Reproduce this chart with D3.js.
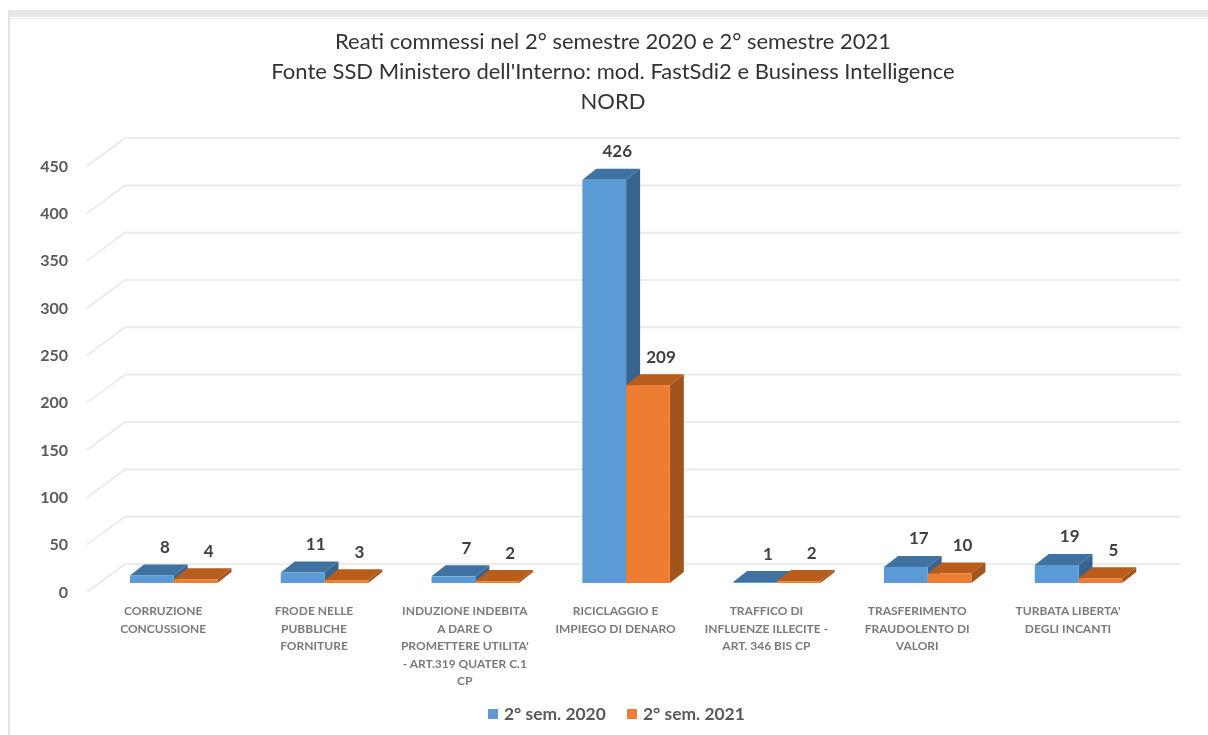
<!DOCTYPE html>
<html>
<head>
<meta charset="utf-8">
<script src="https://cdn.jsdelivr.net/npm/d3@7"></script>
<style>
  html, body { margin: 0; padding: 0; background: #fff; }
  svg { display: block; filter: blur(0.6px); }
  text { font-family: Lato, "Open Sans", sans-serif; }
</style>
</head>
<body>
<div id="chart"></div>
<script>
var w = 1208, h = 735;

// Data
var titleLines = [
  "Reati commessi nel 2° semestre 2020 e 2° semestre 2021",
  "Fonte SSD Ministero dell'Interno: mod. FastSdi2 e Business Intelligence",
  "NORD"
];
var categories = [
  ["CORRUZIONE", "CONCUSSIONE"],
  ["FRODE NELLE", "PUBBLICHE", "FORNITURE"],
  ["INDUZIONE INDEBITA", "A DARE O", "PROMETTERE UTILITA'", "- ART.319 QUATER C.1", "CP"],
  ["RICICLAGGIO E", "IMPIEGO DI DENARO"],
  ["TRAFFICO DI", "INFLUENZE ILLECITE -", "ART. 346 BIS CP"],
  ["TRASFERIMENTO", "FRAUDOLENTO DI", "VALORI"],
  ["TURBATA LIBERTA'", "DEGLI INCANTI"]
];
var seriesNames = ["2° sem. 2020", "2° sem. 2021"];
var values2020 = [8, 11, 7, 426, 1, 17, 19];
var values2021 = [4, 3, 2, 209, 2, 10, 5];
var yTicks = [0, 50, 100, 150, 200, 250, 300, 350, 400, 450];

// Colours per series: front, top, side
var colors = [
  { front: "#5b9bd5", top: "#3f71a1", side: "#38658f" },
  { front: "#ed7d31", top: "#b85d1c", side: "#a2541c" }
];

// Fake 3d offsets
var wallDx = 38, wallDy = 28;     // floor depth
var barDx = 14, barDy = 11;       // bar depth
var barShiftY = 9;                // bar base sits this far behind the front edge

var svg = d3.select("#chart")
  .append("svg")
  .attr("width", w)
  .attr("height", h);

svg.append("rect").attr("width", w).attr("height", h).attr("fill", "#fff");

// Grey screenshot border
svg.append("rect").attr("x", 8).attr("y", 10).attr("width", w - 8).attr("height", 7).attr("fill", "#e6e6e6");
svg.append("rect").attr("x", 8).attr("y", 18).attr("width", w - 8).attr("height", 1).attr("fill", "#ececec");
svg.append("rect").attr("x", 8).attr("y", 10).attr("width", 2).attr("height", h - 10).attr("fill", "#e4e4e4");

// Scales
var yScale = d3.scaleLinear().domain([0, 450]).range([592, 166]);

var xScale = d3.scaleBand()
  .domain(d3.range(categories.length))
  .range([98.3, 1153.9])
  .paddingInner(0.42)
  .paddingOuter(0.21);

var xInner = d3.scaleBand()
  .domain([0, 1])
  .range([0, xScale.bandwidth()]);

// Gridlines
var floorLeft = 87, floorRight = 1143;
svg.append("g")
  .selectAll("path")
  .data(yTicks)
  .enter()
  .append("path")
  .attr("fill", "none")
  .attr("stroke", "#e8e8e8")
  .attr("stroke-width", 1.6)
  .attr("d", function(d) {
    var y = yScale(d);
    return d3.line()([
      [floorLeft, y],
      [floorLeft + wallDx, y - wallDy],
      [floorRight + wallDx, y - wallDy]
    ]);
  });

// Y axis
var yAxis = d3.axisLeft()
  .scale(yScale)
  .tickValues(yTicks)
  .tickSize(0)
  .tickPadding(0);

var yAxisG = svg.append("g")
  .attr("transform", "translate(68, 0)")
  .call(yAxis);
yAxisG.select(".domain").remove();
yAxisG.selectAll("text")
  .attr("font-family", "Lato, sans-serif")
  .attr("font-size", 16)
  .attr("font-weight", 700)
  .attr("fill", "#595959");

// Bars
var seriesData = [values2020, values2021];
var line = d3.line();

seriesData.forEach(function(values, s) {
  var g = svg.append("g").attr("class", "series-" + s);
  var c = colors[s];

  var bars = g.selectAll("g")
    .data(values)
    .enter()
    .append("g");

  function x0(i) { return xScale(i) + xInner(s); }
  function x1(i) { return x0(i) + xInner.bandwidth(); }
  function yTop(d) { return yScale(d) - barShiftY; }
  var yBase = yScale(0) - barShiftY;

  // top face
  bars.append("path")
    .attr("fill", c.top)
    .attr("d", function(d, i) {
      return line([
        [x0(i), yTop(d)],
        [x0(i) + barDx, yTop(d) - barDy],
        [x1(i) + barDx, yTop(d) - barDy],
        [x1(i), yTop(d)]
      ]) + "Z";
    });

  // side face
  bars.append("path")
    .attr("fill", c.side)
    .attr("d", function(d, i) {
      return line([
        [x1(i), yTop(d)],
        [x1(i) + barDx, yTop(d) - barDy],
        [x1(i) + barDx, yBase - barDy],
        [x1(i), yBase]
      ]) + "Z";
    });

  // front face
  bars.append("rect")
    .attr("fill", c.front)
    .attr("x", function(d, i) { return x0(i); })
    .attr("y", function(d) { return yTop(d); })
    .attr("width", xInner.bandwidth())
    .attr("height", function(d) { return yBase - yTop(d); });

  // value labels
  bars.append("text")
    .attr("x", function(d, i) { return x0(i) + xInner.bandwidth() / 2 + 13; })
    .attr("y", function(d) { return yTop(d) - 28.5; })
    .attr("dy", "0.35em")
    .attr("text-anchor", "middle")
    .attr("font-size", 17)
    .attr("font-weight", 700)
    .attr("fill", "#404040")
    .text(function(d) { return d; });
});

// Category labels
var catLabels = svg.append("g")
  .selectAll("text")
  .data(categories)
  .enter()
  .append("text")
  .attr("text-anchor", "middle")
  .attr("font-size", 12)
  .attr("font-weight", 700)
  .attr("fill", "#7a7a7a");

catLabels.selectAll("tspan")
  .data(function(d, i) {
    return d.map(function(t) { return { text: t, cat: i }; });
  })
  .enter()
  .append("tspan")
  .attr("x", function(d) { return xScale(d.cat) + xScale.bandwidth() / 2 - 10.5; })
  .attr("y", function(d, i) { return 615 + i * 17.5; })
  .text(function(d) { return d.text; });

// Title
svg.append("g")
  .selectAll("text")
  .data(titleLines)
  .enter()
  .append("text")
  .attr("x", 613)
  .attr("y", function(d, i) { return 49 + i * 30; })
  .attr("text-anchor", "middle")
  .attr("font-size", 22)
  .attr("fill", "#333333")
  .text(function(d) { return d; });

// Legend
var legendX = [488, 627];
var legend = svg.append("g")
  .selectAll("g")
  .data(seriesNames)
  .enter()
  .append("g")
  .attr("transform", function(d, i) { return "translate(" + legendX[i] + ", 709)"; });

legend.append("rect")
  .attr("width", 10)
  .attr("height", 10)
  .attr("fill", function(d, i) { return colors[i].front; });

legend.append("text")
  .attr("x", 16)
  .attr("y", 11)
  .attr("font-size", 17.4)
  .attr("font-weight", 700)
  .attr("fill", "#595959")
  .text(function(d) { return d; });
</script>
</body>
</html>
